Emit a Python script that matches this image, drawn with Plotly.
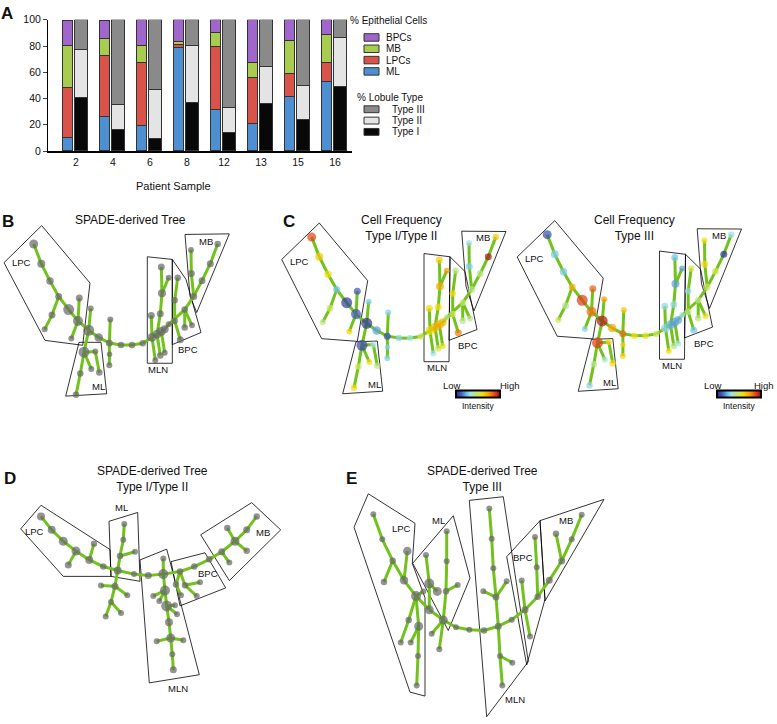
import plotly.graph_objects as go

W, H = 777, 724
FONT = "Liberation Sans, Arial, sans-serif"

# ---------------- Panel A : stacked percentages per patient ----------------
patients = ["2", "4", "6", "8", "12", "13", "15", "16"]
ml = [10, 26, 19, 78.5, 31.5, 21, 41, 52.5]
lpcs = [38, 46.5, 48.5, 2.5, 48, 35, 18, 15]
mb = [32.5, 13, 12.5, 2.5, 10.5, 11, 25, 21]
bpcs = [18.5, 13.5, 20, 16.5, 10, 33, 16, 11.5]
type_i = [40.5, 16, 9, 37, 14, 36, 24, 49]
type_ii = [37, 19.5, 37.5, 43, 19, 28, 26, 37]
type_iii = [22.5, 64.5, 53.5, 20, 67, 36, 50, 14]

epi_series = [("ML", ml, "#4d8fd1"), ("LPCs", lpcs, "#d9534a"),
              ("MB", mb, "#a8cc50"), ("BPCs", bpcs, "#a066cc")]
lob_series = [("Type I", type_i, "#080808"), ("Type II", type_ii, "#e4e4e4"),
              ("Type III", type_iii, "#8a8a8a")]

# ---------------- SPADE tree shared by panels B and C ----------------
tree_x = [311.7, 319.3, 328, 336.7, 330, 322.7, 346.7, 356, 357.3, 349.3,
          366.7, 368.7, 376.7, 387.3, 388.3, 387.3, 387.5, 399, 410, 420.7,
          430, 435, 439.3, 442.7, 446.7, 429.3, 438.3, 440, 439.3, 446.7,
          433.3, 438.3, 442.7, 452.7, 455.7, 452.7, 462.7, 462.7, 470, 458.3,
          471.7, 469.3, 469, 480, 488.3, 495.7, 362, 373.3, 358.3, 369.3,
          377.3, 354]
tree_y = [235, 255, 272.7, 288.3, 307.3, 321.7, 301.7, 313.3, 290, 331,
          322.7, 300.7, 330, 335.7, 311.7, 358.3, 347, 337.7, 337.7, 336,
          330, 326.7, 324, 321.7, 316.7, 307.7, 306, 285, 258.3, 269.3,
          353.3, 348.3, 345.7, 292.3, 269.3, 313.3, 301.7, 320, 317.7, 332.3,
          288.3, 265, 241, 272.3, 255, 235, 345, 344.3, 366.7, 362,
          365.7, 388.3]
tree_size = [9, 8, 7.5, 7, 7, 6, 11, 10, 7, 6,
             11, 6, 8.5, 7, 6, 6, 5.5, 6.5, 6.5, 6.5,
             9, 9, 9, 8, 6, 7, 7, 8, 7, 6,
             6, 6.5, 6, 6.5, 6.5, 6.5, 6.5, 6.5, 6, 7,
             7, 7, 6, 7, 7, 6.5, 11, 6, 6.5, 6,
             6.5, 6.5]
tree_edges = [(0, 1), (1, 2), (2, 3), (3, 4), (4, 5), (3, 6), (6, 7), (7, 8), (7, 9),
              (7, 10), (10, 11), (10, 12), (12, 13), (13, 14), (13, 16), (16, 15),
              (13, 17), (17, 18), (18, 19), (19, 20), (20, 21), (21, 22), (22, 23),
              (23, 24), (20, 25), (21, 26), (26, 27), (27, 28), (27, 29), (20, 30),
              (21, 31), (22, 32), (24, 35), (35, 33), (33, 34), (35, 39), (24, 36),
              (36, 37), (36, 38), (36, 40), (40, 41), (41, 42), (40, 43), (43, 44),
              (44, 45), (10, 46), (46, 48), (48, 51), (46, 49), (46, 47), (47, 50)]
# relative intensity of each node (0 = low, 1 = high)
freq_type_i_ii = [0.88, 0.66, 0.6, 0.25, 0.5, 0.45, 0.04, 0.1, 0.1, 0.62,
                  0.02, 0.27, 0.2, 0.08, 0.28, 0.28, 0.28, 0.3, 0.33, 0.5,
                  0.62, 0.7, 0.72, 0.7, 0.45, 0.62, 0.6, 0.72, 0.64, 0.75,
                  0.33, 0.5, 0.6, 0.6, 0.43, 0.5, 0.48, 0.43, 0.43, 0.8,
                  0.44, 0.28, 0.32, 0.44, 0.98, 0.66, 0.06, 0.33, 0.52, 0.6,
                  0.44, 0.6]
freq_type_iii = [0.08, 0.27, 0.27, 0.72, 0.42, 0.5, 0.9, 0.82, 0.84, 0.28,
                 0.97, 0.75, 0.74, 0.83, 0.66, 0.63, 0.63, 0.6, 0.58, 0.5,
                 0.3, 0.22, 0.2, 0.22, 0.33, 0.3, 0.3, 0.2, 0.25, 0.2,
                 0.6, 0.44, 0.33, 0.3, 0.52, 0.45, 0.44, 0.45, 0.6, 0.26,
                 0.5, 0.6, 0.6, 0.52, 0.02, 0.32, 0.9, 0.62, 0.42, 0.36,
                 0.62, 0.3]

# ---------------- Panel D tree (Type I/Type II) ----------------
d_x = [41, 51.7, 63.3, 76, 68.3, 89.3, 94, 103.3, 117.7, 120,
       135, 123.3, 124.3, 115, 101, 127.3, 111, 105.7, 121, 134,
       148.3, 163.3, 165, 153.3, 159.3, 166.7, 175, 177, 169, 170.7,
       156.7, 183.3, 172.3, 173.3, 163.3, 180, 194.3, 176, 181, 185,
       200, 196.7, 209.3, 221.7, 235, 227.3, 246.7, 256.7, 246.7, 229.3]
d_y = [519, 532.7, 544.3, 554.3, 568.3, 563.3, 546.7, 570, 574, 559.3,
       555, 542.7, 526.7, 590, 589.3, 599.3, 606, 620.7, 617.3, 577.7,
       579, 577.7, 594.3, 600, 605, 610, 609.3, 618.5, 626.7, 642.7,
       646, 645, 659.3, 675, 561.7, 575, 570, 588.3, 599.3, 589,
       586, 600, 562.7, 555, 544.3, 530.7, 532.7, 519, 554, 566]
d_size = [8, 8, 9, 9, 7, 8, 6.5, 6.5, 8, 6.5,
          6, 6, 6, 7, 6, 6, 6, 6, 6, 6,
          7, 10, 10, 6, 6, 11, 6, 6, 8, 9,
          6, 6, 6, 7, 6, 6.5, 6.5, 6.5, 6, 6.5,
          6, 6, 6.5, 7, 9, 6.5, 7, 6.5, 6.5, 6]
d_edges = [(0, 1), (1, 2), (2, 3), (3, 4), (3, 5), (5, 6), (5, 7), (7, 8), (8, 9),
           (9, 10), (9, 11), (11, 12), (8, 13), (13, 14), (13, 15), (13, 16),
           (16, 17), (16, 18), (8, 19), (19, 20), (20, 21), (21, 34), (21, 22),
           (22, 23), (22, 24), (22, 25), (25, 26), (25, 27), (25, 28), (28, 29),
           (29, 30), (29, 31), (29, 32), (32, 33), (21, 35), (35, 36), (36, 42),
           (35, 37), (37, 38), (35, 39), (39, 40), (39, 41), (42, 43), (43, 44),
           (44, 45), (44, 46), (46, 47), (44, 48), (43, 49)]

# ---------------- Panel E tree (Type III) ----------------
e_x = [373.3, 382.3, 392.7, 384, 404, 407.3, 416, 423.3, 429.3, 408.7,
       418.7, 400.7, 410.7, 418, 416.7, 426, 429.3, 437.3, 446.7, 446.7,
       446, 457.7, 443.3, 431.7, 439.3, 456, 469.3, 484, 498.3, 511.7,
       525, 537.7, 549.3, 561.7, 571.7, 581.7, 556, 489.3, 491.7, 493.3,
       496, 483.3, 506.7, 500, 512.3, 502.3, 535, 536.7, 521.7, 530]
e_y = [516.7, 542.3, 564, 585.7, 584, 554.3, 600, 595.3, 614, 624.3,
       630.7, 647.3, 647.3, 661, 691, 558.3, 587.3, 595.3, 534, 564.7,
       595, 588.7, 624.3, 638.3, 654, 631.7, 634.3, 635, 630.7, 624,
       614, 600.7, 584, 564.3, 542.3, 517.3, 536.7, 511, 541.7, 571.7,
       601, 595, 585, 661, 667.7, 691, 540, 570.7, 584.3, 641]
e_size = [6, 6, 6.5, 6.5, 8.5, 8.5, 10, 6, 9, 6.5,
          9, 6, 6, 6, 6, 6, 10, 9, 6, 6,
          6.5, 6, 9, 6, 6, 6, 6, 6.5, 7, 6,
          7, 6.5, 7, 7, 6, 6, 6.5, 6, 6, 6,
          7, 6, 6, 6, 6, 6, 6, 6, 6, 6]
e_edges = [(0, 1), (1, 2), (2, 3), (2, 4), (4, 5), (4, 6), (6, 7), (6, 9), (9, 11),
           (6, 10), (10, 12), (10, 13), (13, 14), (6, 8), (15, 16), (16, 8), (16, 17),
           (8, 22), (18, 19), (19, 20), (20, 21), (20, 22), (22, 23), (22, 24),
           (22, 25), (25, 26), (26, 27), (27, 28), (28, 29), (29, 30), (30, 31),
           (31, 32), (32, 33), (33, 34), (34, 35), (33, 36), (37, 38), (38, 39),
           (39, 40), (40, 41), (40, 42), (40, 28), (28, 43), (43, 44), (43, 45),
           (46, 47), (47, 31), (48, 30), (30, 49)]

# population gates drawn around the trees
gates_b = {
    "LPC": [(4, 261), (41.7, 223.3), (90, 281.7), (82.7, 345), (45, 340)],
    "ML": [(79, 342), (101, 342), (106.7, 394.3), (65.7, 396.7)],
    "MLN": [(147.3, 255), (172.3, 257.7), (172.3, 363.3), (147.3, 363.3)],
    "BPC": [(172.3, 257.7), (186, 278), (201, 332), (172.3, 344.3)],
    "MB": [(185, 232.3), (229.3, 231.7), (196.7, 311.7), (190, 295)],
}
labels_b = {"LPC": (21, 261), "MB": (205.7, 239.3), "MLN": (158.3, 370),
            "BPC": (188.3, 349), "ML": (98.3, 387.3)}
gates_c = {
    "LPC": [(281.7, 257.7), (319.3, 220.7), (367.7, 279.3), (357.3, 341), (321.7, 338.3)],
    "ML": [(356, 341.5), (377.3, 340.7), (382.7, 391.7), (342.7, 394.3)],
    "MLN": [(424, 251.7), (450, 255), (449, 361.7), (424, 361.7)],
    "BPC": [(450, 255), (465, 270), (477, 329), (449, 340)],
    "MB": [(461.7, 229), (506, 229.3), (474, 310), (466, 285)],
}
labels_c = {"LPC": (299.3, 259.3), "MB": (483.3, 235.7), "MLN": (436.7, 367.7),
            "BPC": (468.3, 345.7), "ML": (374.3, 385)}
gates_d = {
    "LPC": [(20.7, 531.7), (41, 507.7), (110, 552.7), (111, 580), (63.3, 580)],
    "ML": [(109, 524), (137.7, 515), (140, 585), (111, 580)],
    "MLN": [(140, 563.3), (166.7, 552.3), (170, 565), (199.3, 680), (149.3, 688.3)],
    "BPC": [(171, 565), (205, 556), (225.7, 591.7), (180, 610)],
    "MB": [(200.7, 537.7), (251.7, 505), (280.7, 532.7), (229.3, 584.3)],
}
labels_d = {"LPC": (34.3, 534), "ML": (121.7, 510), "MLN": (177.7, 694),
            "BPC": (208.3, 577.3), "MB": (263.3, 535)}
gates_e = {
    "LPC": [(354, 530), (368.3, 496), (415, 526), (412.3, 566.7), (425, 601.7),
            (425, 701.7), (410, 697.7)],
    "ML": [(412.7, 566.7), (453.3, 518.3), (470, 581.7), (448.3, 635)],
    "MLN": [(469.3, 502.7), (503.3, 499), (528.3, 666.7), (486.7, 722.7)],
    "BPC": [(506.7, 560), (540, 523.3), (545, 603.3), (526.7, 670)],
    "MB": [(540, 523.3), (604, 501.7), (545, 605)],
}
labels_e = {"LPC": (401.7, 531.7), "ML": (438.3, 522.7), "BPC": (523.3, 560.7),
            "MB": (566, 522.7), "MLN": (515, 705)}

GREEN = "#72c21c"
GREY = "#666666"
SCALE = [[0, "#2a2a8c"], [0.12, "#3f5fbf"], [0.25, "#6ec3ea"], [0.33, "#a2e2ea"],
         [0.43, "#b6e68a"], [0.52, "#d8e44a"], [0.6, "#f4dc0a"], [0.68, "#f5c000"],
         [0.76, "#f59a00"], [0.86, "#e8501a"], [0.93, "#d42a12"], [1, "#8e1010"]]

fig = go.Figure()

# ---- panel A bars
epi_pos = [i - 0.22 for i in range(len(patients))]
lob_pos = [i + 0.15 for i in range(len(patients))]
for name, vals, col in epi_series:
    fig.add_trace(go.Bar(x=epi_pos, y=vals, width=0.28, name=name, showlegend=False,
                         marker=dict(color=col, line=dict(color="#333333", width=1))))
for name, vals, col in lob_series:
    fig.add_trace(go.Bar(x=lob_pos, y=vals, width=0.33, name=name, showlegend=False,
                         marker=dict(color=col, line=dict(color="#333333", width=1))))


def canvas(trace):
    trace.update(xaxis="x2", yaxis="y2", hoverinfo="skip", showlegend=False)
    fig.add_trace(trace)


def draw_tree(xs, ys, sizes, edges, dx=0, dy=0, color=GREY, caxis=None):
    ex, ey = [], []
    for a, b in edges:
        ex += [xs[a] + dx, xs[b] + dx, None]
        ey += [ys[a] + dy, ys[b] + dy, None]
    canvas(go.Scatter(x=ex, y=ey, mode="lines", line=dict(color=GREEN, width=3)))
    marker = dict(size=sizes, color=color, line=dict(width=0))
    if caxis:
        marker["coloraxis"] = caxis
    canvas(go.Scatter(x=[v + dx for v in xs], y=[v + dy for v in ys],
                      mode="markers", marker=marker))


def draw_gates(gates, labels, dx=0, dy=0):
    for name, pts in gates.items():
        px = [p[0] + dx for p in pts] + [pts[0][0] + dx]
        py = [p[1] + dy for p in pts] + [pts[0][1] + dy]
        canvas(go.Scatter(x=px, y=py, mode="lines",
                          line=dict(color="black", width=0.8)))
    for name, (lx, ly) in labels.items():
        fig.add_annotation(x=lx + dx, y=ly + dy, xref="x2", yref="y2", text=name,
                           showarrow=False, font=dict(size=9.5, color="#111"))


# B (same tree, grey nodes)
B_DX, B_DY = -278, 7
R_DX, R_DY = 235.5, -2.5
draw_gates(gates_b, labels_b)
draw_tree(tree_x, tree_y, tree_size, tree_edges, B_DX, B_DY)
# C left / right
draw_gates(gates_c, labels_c)
draw_tree(tree_x, tree_y, tree_size, tree_edges, color=freq_type_i_ii, caxis="coloraxis")
draw_gates(gates_c, labels_c, R_DX, R_DY)
draw_tree(tree_x, tree_y, tree_size, tree_edges, R_DX, R_DY,
          color=freq_type_iii, caxis="coloraxis2")
# D, E
draw_gates(gates_d, labels_d)
draw_tree(d_x, d_y, d_size, d_edges)
draw_gates(gates_e, labels_e)
draw_tree(e_x, e_y, e_size, e_edges)

# ---- panel A manual legend
fig.add_annotation(x=348, y=15, xref="x2", yref="y2", text="% Epithelial Cells",
                   showarrow=False, xanchor="left", font=dict(size=10))
for k, (name, vals, col) in enumerate(epi_series[::-1]):
    yc = 32 + 11.5 * k
    fig.add_shape(type="rect", xref="x2", yref="y2", x0=364, x1=379, y0=yc - 3.8,
                  y1=yc + 3.8, fillcolor=col, line=dict(color="#333", width=1))
    fig.add_annotation(x=384, y=yc, xref="x2", yref="y2", text=name, showarrow=False,
                       xanchor="left", font=dict(size=10))
fig.add_annotation(x=355, y=93, xref="x2", yref="y2", text="% Lobule Type",
                   showarrow=False, xanchor="left", font=dict(size=10))
for k, (name, vals, col) in enumerate(lob_series[::-1]):
    yc = 105 + 11.5 * k
    fig.add_shape(type="rect", xref="x2", yref="y2", x0=364, x1=379, y0=yc - 3.5,
                  y1=yc + 3.5, fillcolor=col, line=dict(color="#333", width=1))
    fig.add_annotation(x=390, y=yc, xref="x2", yref="y2", text=name, showarrow=False,
                       xanchor="left", font=dict(size=10))
fig.add_annotation(x=173, y=183, xref="x2", yref="y2", text="Patient Sample",
                   showarrow=False, font=dict(size=11))

# ---- titles and panel letters
titles = [(130, 218, "SPADE-derived Tree"), (401, 226, "Cell Frequency<br>Type I/Type II"),
          (634, 226, "Cell Frequency<br>Type III"),
          (152, 481, "SPADE-derived Tree<br>Type I/Type II"),
          (482, 481, "SPADE-derived Tree<br>Type III")]
for tx, ty, t in titles:
    fig.add_annotation(x=tx, y=ty, xref="x2", yref="y2", text=t, showarrow=False,
                       font=dict(size=12))
for tx, ty, t in [(7, 8, "A"), (8, 219, "B"), (289, 219, "C"), (10, 480, "D"), (351, 480, "E")]:
    fig.add_annotation(x=tx, y=ty, xref="x2", yref="y2", text="<b>%s</b>" % t,
                       showarrow=False, font=dict(size=17))

# ---- colour bars labels
for cx in (478, 738.5):
    fig.add_annotation(x=cx - 26, y=386, xref="x2", yref="y2", text="Low",
                       showarrow=False, font=dict(size=9.5))
    fig.add_annotation(x=min(cx + 44, 776), y=386, xref="x2", yref="y2", text="High",
                       showarrow=False, xanchor="right", font=dict(size=9.5))
    fig.add_annotation(x=cx, y=407, xref="x2", yref="y2", text="Intensity",
                       showarrow=False, font=dict(size=8.5))


def cbar(cx):
    return dict(orientation="h", x=cx / W, xanchor="center", y=1 - 395.5 / H,
                yanchor="middle", lenmode="pixels", len=44, thickness=7,
                outlinewidth=2, outlinecolor="black", showticklabels=False, ticks="",
                xpad=0, ypad=0)


fig.update_layout(
    width=W, height=H, margin=dict(l=0, r=0, t=0, b=0),
    paper_bgcolor="white", plot_bgcolor="rgba(0,0,0,0)",
    font=dict(family=FONT, color="#111"),
    barmode="stack", bargap=0,
    xaxis=dict(domain=[48 / W, 352 / W], range=[-0.757, 7.46], tickvals=list(range(8)),
               ticktext=patients, showgrid=False, zeroline=False, showline=True,
               linecolor="black", linewidth=2, ticks="", tickfont=dict(size=10.5)),
    yaxis=dict(domain=[1 - 147.5 / H, 1 - 14 / H], range=[0, 100], dtick=20,
               showgrid=False, zeroline=False, showline=True, linecolor="black",
               linewidth=1, ticks="outside", ticklen=4, tickfont=dict(size=10.5)),
    xaxis2=dict(domain=[0, 1], range=[0, W], visible=False, anchor="y2"),
    yaxis2=dict(domain=[0, 1], range=[H, 0], visible=False, anchor="x2"),
    coloraxis=dict(colorscale=SCALE, cmin=0, cmax=1, colorbar=cbar(478)),
    coloraxis2=dict(colorscale=SCALE, cmin=0, cmax=1, colorbar=cbar(738.5)),
)

# the page's default body margin would push the figure 8 px right and down
fig.write_html("out.html", config={"displayModeBar": False},
               post_script="document.body.style.margin='0px';")
